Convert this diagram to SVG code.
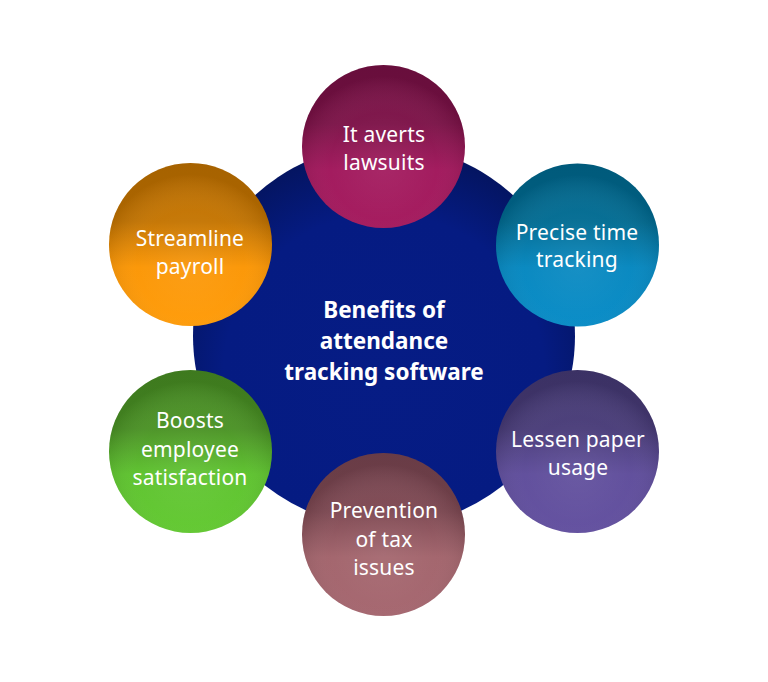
<svg xmlns="http://www.w3.org/2000/svg" width="768" height="682" viewBox="0 0 768 682">
<defs>
<style>
.t{font-family:"Noto Sans","Liberation Sans",sans-serif;font-size:21px;font-weight:400;letter-spacing:0.2px;fill:#fff;text-anchor:middle}
.c{font-family:"Noto Sans","Liberation Sans",sans-serif;font-size:22.5px;font-weight:700;fill:#fff;text-anchor:middle}
</style>
<radialGradient id="navy" cx="0.5" cy="0.6" r="0.6">
<stop offset="0" stop-color="#061c85"/>
<stop offset="0.7" stop-color="#051b82"/>
<stop offset="1" stop-color="#04145f"/>
</radialGradient>
<radialGradient id="gloss" cx="0.5" cy="0.62" r="0.55">
<stop offset="0" stop-color="#fff" stop-opacity="0.08"/>
<stop offset="0.6" stop-color="#fff" stop-opacity="0.03"/>
<stop offset="1" stop-color="#000" stop-opacity="0.12"/>
</radialGradient>
<linearGradient id="gM" x1="0" y1="0" x2="0" y2="1">
<stop offset="0" stop-color="#761044"/><stop offset="0.36" stop-color="#7c1147"/><stop offset="0.64" stop-color="#a0155a"/><stop offset="1" stop-color="#a3165b"/>
</linearGradient>
<linearGradient id="gB" x1="0" y1="0" x2="0" y2="1">
<stop offset="0" stop-color="#00668c"/><stop offset="0.36" stop-color="#006b92"/><stop offset="0.64" stop-color="#0386bf"/><stop offset="1" stop-color="#048ac6"/>
</linearGradient>
<linearGradient id="gP" x1="0" y1="0" x2="0" y2="1">
<stop offset="0" stop-color="#433872"/><stop offset="0.36" stop-color="#483b78"/><stop offset="0.64" stop-color="#5d4b9a"/><stop offset="1" stop-color="#604d9e"/>
</linearGradient>
<linearGradient id="gR" x1="0" y1="0" x2="0" y2="1">
<stop offset="0" stop-color="#774450"/><stop offset="0.36" stop-color="#7e4852"/><stop offset="0.64" stop-color="#a1626a"/><stop offset="1" stop-color="#a4646d"/>
</linearGradient>
<linearGradient id="gG" x1="0" y1="0" x2="0" y2="1">
<stop offset="0" stop-color="#468a22"/><stop offset="0.36" stop-color="#4a9224"/><stop offset="0.64" stop-color="#5cc22c"/><stop offset="1" stop-color="#60c82e"/>
</linearGradient>
<linearGradient id="gO" x1="0" y1="0" x2="0" y2="1">
<stop offset="0" stop-color="#bd6f00"/><stop offset="0.36" stop-color="#c47400"/><stop offset="0.64" stop-color="#fb9502"/><stop offset="1" stop-color="#ff9a05"/>
</linearGradient>
</defs>
<rect width="768" height="682" fill="#fff"/>
<g id="connectors"/>
<g id="center">
<circle cx="384" cy="336" r="191" fill="url(#navy)"/>
<text class="c" x="384" y="318">Benefits of</text>
<text class="c" x="384" y="349">attendance</text>
<text class="c" x="384" y="380">tracking software</text>
</g>
<g id="n-lawsuits">
<circle cx="383.5" cy="146.5" r="81.5" fill="url(#gM)"/>
<circle cx="383.5" cy="146.5" r="81.5" fill="url(#gloss)"/>
<text class="t" x="384" y="142">It averts</text>
<text class="t" x="384" y="170">lawsuits</text>
</g>
<g id="n-precise">
<circle cx="577.5" cy="245" r="81.5" fill="url(#gB)"/>
<circle cx="577.5" cy="245" r="81.5" fill="url(#gloss)"/>
<text class="t" x="577" y="240">Precise time</text>
<text class="t" x="577" y="267">tracking</text>
</g>
<g id="n-paper">
<circle cx="577.5" cy="451.5" r="81.5" fill="url(#gP)"/>
<circle cx="577.5" cy="451.5" r="81.5" fill="url(#gloss)"/>
<text class="t" x="578" y="447">Lessen paper</text>
<text class="t" x="578" y="475">usage</text>
</g>
<g id="n-tax">
<circle cx="383.5" cy="534.5" r="81.5" fill="url(#gR)"/>
<circle cx="383.5" cy="534.5" r="81.5" fill="url(#gloss)"/>
<text class="t" x="384" y="518">Prevention</text>
<text class="t" x="384" y="547">of tax</text>
<text class="t" x="384" y="575">issues</text>
</g>
<g id="n-employee">
<circle cx="190.5" cy="451.5" r="81.5" fill="url(#gG)"/>
<circle cx="190.5" cy="451.5" r="81.5" fill="url(#gloss)"/>
<text class="t" x="190" y="428">Boosts</text>
<text class="t" x="190" y="457">employee</text>
<text class="t" x="190" y="485">satisfaction</text>
</g>
<g id="n-payroll">
<circle cx="190.5" cy="244.5" r="81.5" fill="url(#gO)"/>
<circle cx="190.5" cy="244.5" r="81.5" fill="url(#gloss)"/>
<text class="t" x="190" y="246">Streamline</text>
<text class="t" x="190" y="274">payroll</text>
</g>
</svg>
